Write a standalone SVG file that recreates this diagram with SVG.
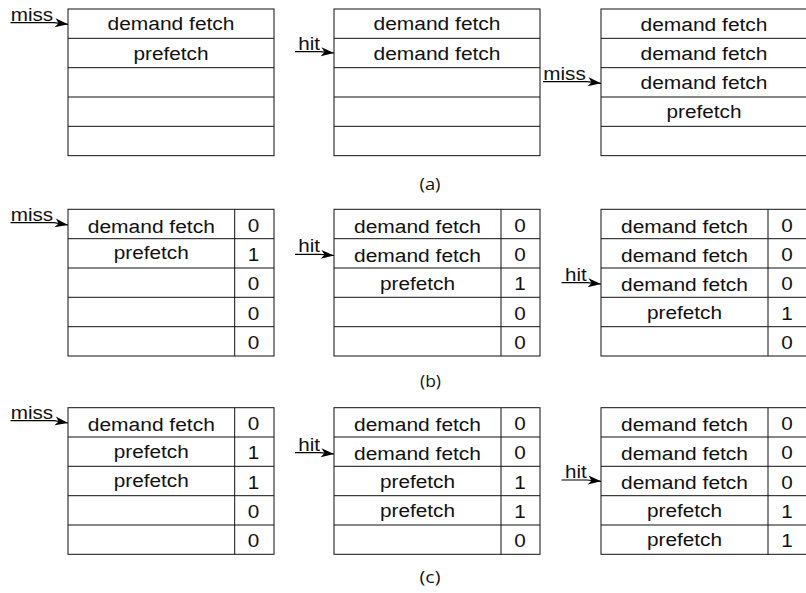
<svg xmlns="http://www.w3.org/2000/svg" width="806" height="593" viewBox="0 0 806 593">
  <style>
    .box{fill:#fff;stroke:#111;stroke-width:1}
    .ln{stroke:#111;stroke-width:1}
    .t{font-family:"Liberation Sans",Arial,sans-serif;font-size:18px;fill:#111;text-anchor:middle}
    .lbl{font-family:"Liberation Sans",Arial,sans-serif;font-size:18px;fill:#111}
    .cap{font-family:"Open Sans","Noto Sans",sans-serif;font-size:17px;fill:#111;text-anchor:middle}
    .edge{fill:none;stroke:#000;stroke-width:1.2;marker-end:url(#arr)}
  </style>
  <defs>
    <marker id="arr" markerUnits="userSpaceOnUse" markerWidth="16" markerHeight="12" refX="13" refY="4.5" orient="auto" overflow="visible">
      <path d="M0,0 L13,4.5 L0,9 L3.5,4.5 Z" fill="#000"/>
    </marker>
  </defs>

  <!-- (a) plain FIFO buffer -->
  <g id="a1">
    <rect class="box" x="68" y="9" width="206" height="146.67"/>
    <path class="ln" d="M68,38.33H274M68,67.67H274M68,97H274M68,126.33H274"/>
    <text class="t" x="171" y="30" textLength="127" lengthAdjust="spacingAndGlyphs">demand fetch</text>
    <text class="t" x="171" y="59.5" textLength="75" lengthAdjust="spacingAndGlyphs">prefetch</text>
  </g>
  <g id="a2">
    <rect class="box" x="334" y="9" width="206" height="146.67"/>
    <path class="ln" d="M334,38.33H540M334,67.67H540M334,97H540M334,126.33H540"/>
    <text class="t" x="437" y="30" textLength="127" lengthAdjust="spacingAndGlyphs">demand fetch</text>
    <text class="t" x="437" y="59.5" textLength="127" lengthAdjust="spacingAndGlyphs">demand fetch</text>
  </g>
  <g id="a3">
    <rect class="box" x="601" y="9" width="206" height="146.67"/>
    <path class="ln" d="M601,38.33H807M601,67.67H807M601,97H807M601,126.33H807"/>
    <text class="t" x="704" y="30.5" textLength="127" lengthAdjust="spacingAndGlyphs">demand fetch</text>
    <text class="t" x="704" y="60" textLength="127" lengthAdjust="spacingAndGlyphs">demand fetch</text>
    <text class="t" x="704" y="89.3" textLength="127" lengthAdjust="spacingAndGlyphs">demand fetch</text>
    <text class="t" x="704" y="117.5" textLength="75" lengthAdjust="spacingAndGlyphs">prefetch</text>
  </g>

  <!-- (b) buffer with prefetch bit -->
  <g id="b1">
    <rect class="box" x="68" y="209.3" width="206" height="146.7"/>
    <path class="ln" d="M68,238.7H274M68,268H274M68,297.3H274M68,326.7H274M234.7,209.3V356"/>
    <text class="t" x="151.3" y="232.5" textLength="127" lengthAdjust="spacingAndGlyphs">demand fetch</text>
    <text class="t" x="151.3" y="259" textLength="75" lengthAdjust="spacingAndGlyphs">prefetch</text>
    <text class="t" x="253.5" y="231.7" textLength="11.5" lengthAdjust="spacingAndGlyphs">0</text>
    <text class="t" x="253.5" y="261" textLength="11.5" lengthAdjust="spacingAndGlyphs">1</text>
    <text class="t" x="253.5" y="290.3" textLength="11.5" lengthAdjust="spacingAndGlyphs">0</text>
    <text class="t" x="253.5" y="319.7" textLength="11.5" lengthAdjust="spacingAndGlyphs">0</text>
    <text class="t" x="253.5" y="349" textLength="11.5" lengthAdjust="spacingAndGlyphs">0</text>
  </g>
  <g id="b2">
    <rect class="box" x="334" y="209.3" width="206" height="146.7"/>
    <path class="ln" d="M334,238.7H540M334,268H540M334,297.3H540M334,326.7H540M501,209.3V356"/>
    <text class="t" x="417.5" y="232.5" textLength="127" lengthAdjust="spacingAndGlyphs">demand fetch</text>
    <text class="t" x="417.5" y="261.8" textLength="127" lengthAdjust="spacingAndGlyphs">demand fetch</text>
    <text class="t" x="417.5" y="289.5" textLength="75" lengthAdjust="spacingAndGlyphs">prefetch</text>
    <text class="t" x="520" y="231.7" textLength="11.5" lengthAdjust="spacingAndGlyphs">0</text>
    <text class="t" x="520" y="261" textLength="11.5" lengthAdjust="spacingAndGlyphs">0</text>
    <text class="t" x="520" y="290.3" textLength="11.5" lengthAdjust="spacingAndGlyphs">1</text>
    <text class="t" x="520" y="319.7" textLength="11.5" lengthAdjust="spacingAndGlyphs">0</text>
    <text class="t" x="520" y="349" textLength="11.5" lengthAdjust="spacingAndGlyphs">0</text>
  </g>
  <g id="b3">
    <rect class="box" x="601" y="209.3" width="206" height="146.7"/>
    <path class="ln" d="M601,238.7H807M601,268H807M601,297.3H807M601,326.7H807M768,209.3V356"/>
    <text class="t" x="684.5" y="232.5" textLength="127" lengthAdjust="spacingAndGlyphs">demand fetch</text>
    <text class="t" x="684.5" y="261.8" textLength="127" lengthAdjust="spacingAndGlyphs">demand fetch</text>
    <text class="t" x="684.5" y="291" textLength="127" lengthAdjust="spacingAndGlyphs">demand fetch</text>
    <text class="t" x="684.5" y="319" textLength="75" lengthAdjust="spacingAndGlyphs">prefetch</text>
    <text class="t" x="787" y="231.7" textLength="11.5" lengthAdjust="spacingAndGlyphs">0</text>
    <text class="t" x="787" y="261" textLength="11.5" lengthAdjust="spacingAndGlyphs">0</text>
    <text class="t" x="787" y="290.3" textLength="11.5" lengthAdjust="spacingAndGlyphs">0</text>
    <text class="t" x="787" y="319.7" textLength="11.5" lengthAdjust="spacingAndGlyphs">1</text>
    <text class="t" x="787" y="349" textLength="11.5" lengthAdjust="spacingAndGlyphs">0</text>
  </g>

  <!-- (c) buffer with several prefetched entries -->
  <g id="c1">
    <rect class="box" x="68" y="407.7" width="206" height="146.6"/>
    <path class="ln" d="M68,437H274M68,466.3H274M68,495.7H274M68,525H274M234.7,407.7V554.3"/>
    <text class="t" x="151.3" y="431" textLength="127" lengthAdjust="spacingAndGlyphs">demand fetch</text>
    <text class="t" x="151.3" y="457.5" textLength="75" lengthAdjust="spacingAndGlyphs">prefetch</text>
    <text class="t" x="151.3" y="486.5" textLength="75" lengthAdjust="spacingAndGlyphs">prefetch</text>
    <text class="t" x="253.5" y="430.1" textLength="11.5" lengthAdjust="spacingAndGlyphs">0</text>
    <text class="t" x="253.5" y="459.4" textLength="11.5" lengthAdjust="spacingAndGlyphs">1</text>
    <text class="t" x="253.5" y="488.7" textLength="11.5" lengthAdjust="spacingAndGlyphs">1</text>
    <text class="t" x="253.5" y="518.1" textLength="11.5" lengthAdjust="spacingAndGlyphs">0</text>
    <text class="t" x="253.5" y="547.4" textLength="11.5" lengthAdjust="spacingAndGlyphs">0</text>
  </g>
  <g id="c2">
    <rect class="box" x="334" y="407.7" width="206" height="146.6"/>
    <path class="ln" d="M334,437H540M334,466.3H540M334,495.7H540M334,525H540M501,407.7V554.3"/>
    <text class="t" x="417.5" y="431" textLength="127" lengthAdjust="spacingAndGlyphs">demand fetch</text>
    <text class="t" x="417.5" y="460.2" textLength="127" lengthAdjust="spacingAndGlyphs">demand fetch</text>
    <text class="t" x="417.5" y="488" textLength="75" lengthAdjust="spacingAndGlyphs">prefetch</text>
    <text class="t" x="417.5" y="517.3" textLength="75" lengthAdjust="spacingAndGlyphs">prefetch</text>
    <text class="t" x="520" y="430.1" textLength="11.5" lengthAdjust="spacingAndGlyphs">0</text>
    <text class="t" x="520" y="459.4" textLength="11.5" lengthAdjust="spacingAndGlyphs">0</text>
    <text class="t" x="520" y="488.7" textLength="11.5" lengthAdjust="spacingAndGlyphs">1</text>
    <text class="t" x="520" y="518.1" textLength="11.5" lengthAdjust="spacingAndGlyphs">1</text>
    <text class="t" x="520" y="547.4" textLength="11.5" lengthAdjust="spacingAndGlyphs">0</text>
  </g>
  <g id="c3">
    <rect class="box" x="601" y="407.7" width="206" height="146.6"/>
    <path class="ln" d="M601,437H807M601,466.3H807M601,495.7H807M601,525H807M768,407.7V554.3"/>
    <text class="t" x="684.5" y="431" textLength="127" lengthAdjust="spacingAndGlyphs">demand fetch</text>
    <text class="t" x="684.5" y="460.2" textLength="127" lengthAdjust="spacingAndGlyphs">demand fetch</text>
    <text class="t" x="684.5" y="489.4" textLength="127" lengthAdjust="spacingAndGlyphs">demand fetch</text>
    <text class="t" x="684.5" y="517" textLength="75" lengthAdjust="spacingAndGlyphs">prefetch</text>
    <text class="t" x="684.5" y="546" textLength="75" lengthAdjust="spacingAndGlyphs">prefetch</text>
    <text class="t" x="787" y="430.1" textLength="11.5" lengthAdjust="spacingAndGlyphs">0</text>
    <text class="t" x="787" y="459.4" textLength="11.5" lengthAdjust="spacingAndGlyphs">0</text>
    <text class="t" x="787" y="488.7" textLength="11.5" lengthAdjust="spacingAndGlyphs">0</text>
    <text class="t" x="787" y="518.1" textLength="11.5" lengthAdjust="spacingAndGlyphs">1</text>
    <text class="t" x="787" y="547.4" textLength="11.5" lengthAdjust="spacingAndGlyphs">1</text>
  </g>

  <!-- access arrows: the flat run doubles as the label underline -->
  <g id="connectors">
    <path class="edge" d="M10.5,22.7H54L68,24.3"/>
    <text class="lbl" x="10.7" y="20.5" textLength="42.5" lengthAdjust="spacingAndGlyphs">miss</text>
    <path class="edge" d="M295,51.7H320L334,53"/>
    <text class="lbl" x="298.3" y="49.7" textLength="21.7" lengthAdjust="spacingAndGlyphs">hit</text>
    <path class="edge" d="M543,81.7H587L601,83.3"/>
    <text class="lbl" x="543.3" y="79.7" textLength="42.5" lengthAdjust="spacingAndGlyphs">miss</text>

    <path class="edge" d="M10.5,222.7H54L68,225"/>
    <text class="lbl" x="10.7" y="220.5" textLength="42.5" lengthAdjust="spacingAndGlyphs">miss</text>
    <path class="edge" d="M295,254.3H320L334,255.5"/>
    <text class="lbl" x="298.3" y="252.3" textLength="21.7" lengthAdjust="spacingAndGlyphs">hit</text>
    <path class="edge" d="M561.5,282.7H587L601,284"/>
    <text class="lbl" x="565" y="280.7" textLength="21.7" lengthAdjust="spacingAndGlyphs">hit</text>

    <path class="edge" d="M10.5,420.7H54L68,423"/>
    <text class="lbl" x="10.7" y="418.7" textLength="42.5" lengthAdjust="spacingAndGlyphs">miss</text>
    <path class="edge" d="M295,452.7H320L334,454"/>
    <text class="lbl" x="298.3" y="450.7" textLength="21.7" lengthAdjust="spacingAndGlyphs">hit</text>
    <path class="edge" d="M561.5,480H587L601,481.3"/>
    <text class="lbl" x="565" y="478" textLength="21.7" lengthAdjust="spacingAndGlyphs">hit</text>
  </g>

  <!-- sub-figure captions -->
  <text class="cap" x="430" y="189.5" textLength="21" lengthAdjust="spacingAndGlyphs">(a)</text>
  <text class="cap" x="430.5" y="386.5" textLength="21" lengthAdjust="spacingAndGlyphs">(b)</text>
  <text class="cap" x="430" y="583" textLength="21" lengthAdjust="spacingAndGlyphs">(c)</text>
</svg>
